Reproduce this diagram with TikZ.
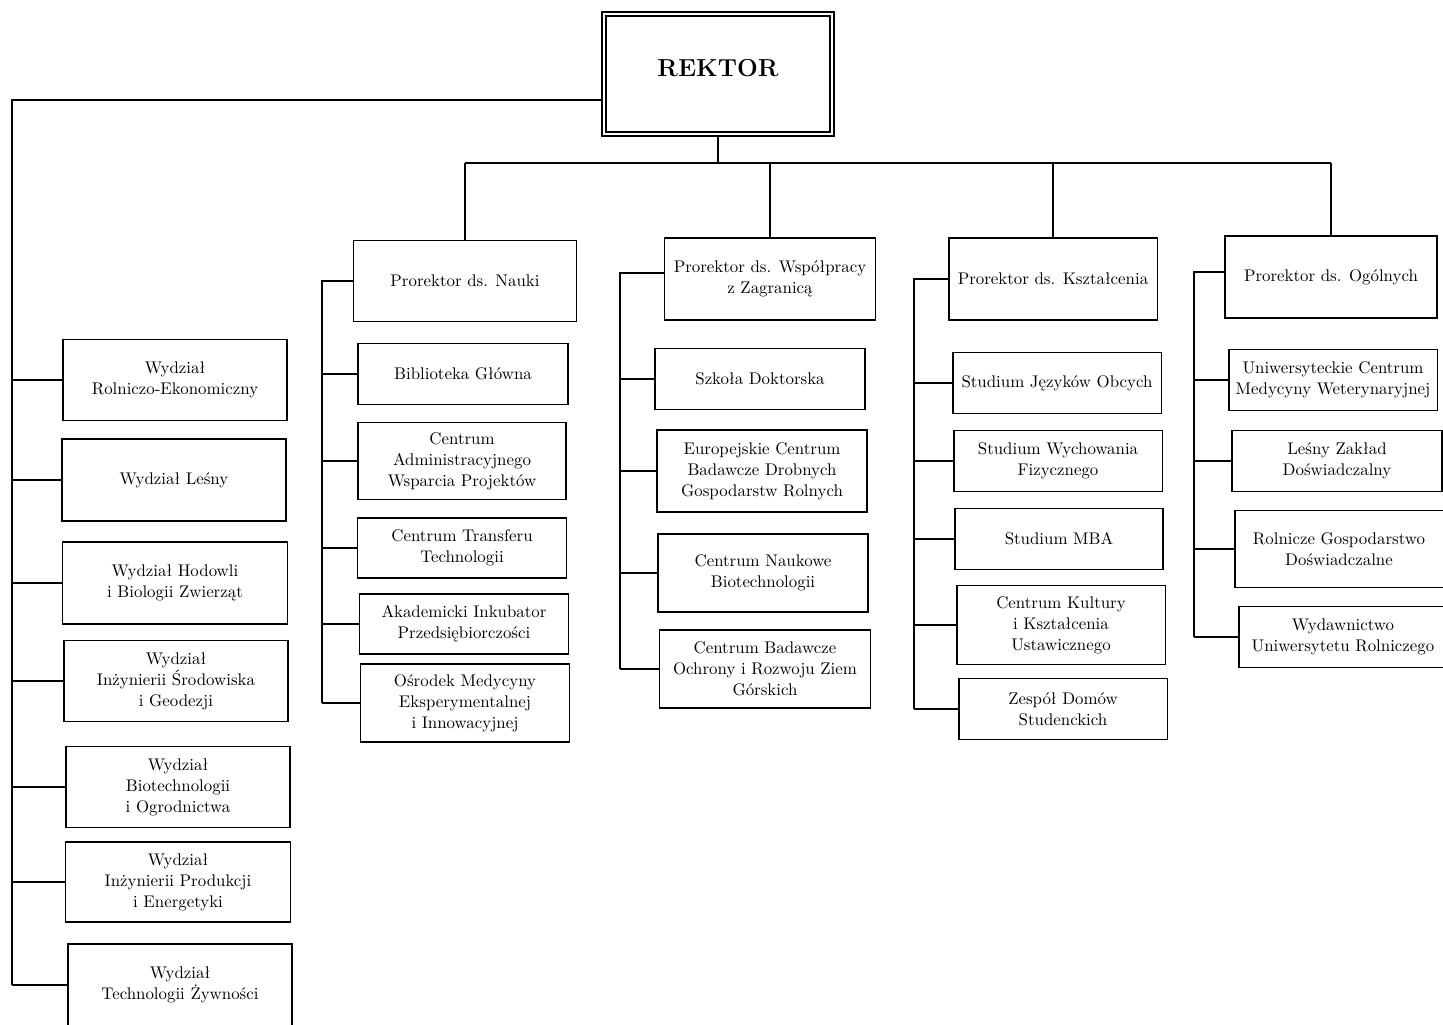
\documentclass[tikz,border=0pt]{standalone}
\usepackage{fontspec}
\usetikzlibrary{calc}

\begin{document}
\begin{tikzpicture}[x=0.02cm,y=-0.02cm,
    pole/.style={draw, line width=1.1pt, align=center, inner sep=2pt,
      font=\fontsize{9.6}{12}\selectfont},
    linia/.style={line width=1.1pt}]

  \useasboundingbox (0,0) rectangle (1443,1024);

  % Rektor
  \node[pole, double, line width=0.8pt, double distance=1.6pt,
    minimum width=4.56cm, minimum height=2.4cm, text depth=0.24cm,
    font=\fontsize{14}{16}\selectfont\bfseries] (rektor) at (718,74) {REKTOR};

  % Prorektorzy
  \node[pole, minimum width=4.46cm, minimum height=1.62cm] (pnauki) at (465,281) {Prorektor ds. Nauki};
  \node[pole, minimum width=4.22cm, minimum height=1.64cm] (pwsp) at (770,279) {Prorektor ds. Współpracy\\z Zagranicą};
  \node[pole, minimum width=4.18cm, minimum height=1.64cm] (pksz) at (1053,279) {Prorektor ds. Kształcenia};
  \node[pole, minimum width=4.24cm, minimum height=1.64cm] (pogo) at (1331,277) {Prorektor ds. Ogólnych};

  % Wydzialy
  \node[pole, minimum width=4.48cm, minimum height=1.62cm] (wyd1) at (175,380) {Wydział\\Rolniczo-Ekonomiczny};
  \node[pole, minimum width=4.48cm, minimum height=1.64cm] (wyd2) at (174,480) {Wydział Leśny};
  \node[pole, minimum width=4.5cm, minimum height=1.64cm] (wyd3) at (175,583) {Wydział Hodowli\\i Biologii Zwierząt};
  \node[pole, minimum width=4.48cm, minimum height=1.62cm] (wyd4) at (176,681) {Wydział\\Inżynierii Środowiska\\i Geodezji};
  \node[pole, minimum width=4.48cm, minimum height=1.62cm] (wyd5) at (178,787) {Wydział\\Biotechnologii\\i Ogrodnictwa};
  \node[pole, minimum width=4.5cm, minimum height=1.6cm] (wyd6) at (178,882) {Wydział\\Inżynierii Produkcji\\i Energetyki};
  \node[pole, minimum width=4.48cm, minimum height=1.64cm] (wyd7) at (180,985) {Wydział\\Technologii Żywności};

  % Jednostki - Nauka
  \node[pole, minimum width=4.2cm, minimum height=1.22cm] (nau1) at (463,374) {Biblioteka Główna};
  \node[pole, minimum width=4.16cm, minimum height=1.54cm] (nau2) at (462,461) {Centrum\\Administracyjnego\\Wsparcia Projektów};
  \node[pole, minimum width=4.18cm, minimum height=1.2cm] (nau3) at (462,548) {Centrum Transferu\\Technologii};
  \node[pole, minimum width=4.18cm, minimum height=1.2cm] (nau4) at (464,624) {Akademicki Inkubator\\Przedsiębiorczości};
  \node[pole, minimum width=4.18cm, minimum height=1.56cm] (nau5) at (465,703) {Ośrodek Medycyny\\Eksperymentalnej\\i Innowacyjnej};

  % Jednostki - Wspolpraca z Zagranica
  \node[pole, minimum width=4.2cm, minimum height=1.22cm] (wsp1) at (760,379) {Szkoła Doktorska};
  \node[pole, minimum width=4.2cm, minimum height=1.64cm] (wsp2) at (762,471) {Europejskie Centrum\\Badawcze Drobnych\\Gospodarstw Rolnych};
  \node[pole, minimum width=4.2cm, minimum height=1.56cm] (wsp3) at (763,573) {Centrum Naukowe\\Biotechnologii};
  \node[pole, minimum width=4.22cm, minimum height=1.56cm] (wsp4) at (765,669) {Centrum Badawcze\\Ochrony i Rozwoju Ziem\\Górskich};

  % Jednostki - Ksztalcenie
  \node[pole, minimum width=4.18cm, minimum height=1.22cm] (ksz1) at (1057,383) {Studium Języków Obcych};
  \node[pole, minimum width=4.18cm, minimum height=1.22cm] (ksz2) at (1058,461) {Studium Wychowania\\Fizycznego};
  \node[pole, minimum width=4.16cm, minimum height=1.22cm] (ksz3) at (1059,539) {Studium MBA};
  \node[pole, minimum width=4.18cm, minimum height=1.58cm] (ksz4) at (1061,625) {Centrum Kultury\\i Kształcenia\\Ustawicznego};
  \node[pole, minimum width=4.18cm, minimum height=1.22cm] (ksz5) at (1063,709) {Zespół Domów\\Studenckich};

  % Jednostki - Sprawy Ogolne
  \node[pole, minimum width=4.18cm, minimum height=1.22cm] (ogo1) at (1333,380) {Uniwersyteckie Centrum\\Medycyny Weterynaryjnej};
  \node[pole, minimum width=4.2cm, minimum height=1.22cm] (ogo2) at (1337,461) {Leśny Zakład\\Doświadczalny};
  \node[pole, minimum width=4.18cm, minimum height=1.54cm] (ogo3) at (1339,549) {Rolnicze Gospodarstwo\\Doświadczalne};
  \node[pole, minimum width=4.16cm, minimum height=1.22cm] (ogo4) at (1343,637) {Wydawnictwo\\Uniwersytetu Rolniczego};

  % Polaczenia rektora
  \coordinate (pien) at (12,100);
  \coordinate (szyna) at (718,163);
  \draw[linia] (pien -| rektor.west) -- (pien) -- (pien |- wyd7.west);
  \foreach \i in {1,...,7}
    \draw[linia] (pien |- wyd\i.west) -- (wyd\i.west);
  \draw[linia] (rektor.south) -- (szyna);
  \draw[linia] (szyna -| pnauki.north) -- (szyna -| pogo.north);
  \foreach \p in {pnauki,pwsp,pksz,pogo}
    \draw[linia] (szyna -| \p.north) -- (\p.north);

  % Polaczenia prorektorow
  \draw[linia] (pnauki.west) -- ++(-31,0) coordinate (snau) -- (snau |- nau5.west);
  \foreach \i in {1,...,5}
    \draw[linia] (snau |- nau\i.west) -- (nau\i.west);

  \draw[linia] ($(pwsp.west)+(0,-6)$) -- ++(-44,0) coordinate (swsp) -- (swsp |- wsp4.west);
  \foreach \i in {1,...,4}
    \draw[linia] (swsp |- wsp\i.west) -- (wsp\i.west);

  \draw[linia] (pksz.west) -- ++(-34,0) coordinate (sksz) -- (sksz |- ksz5.west);
  \foreach \i in {1,...,5}
    \draw[linia] (sksz |- ksz\i.west) -- (ksz\i.west);

  \draw[linia] ($(pogo.west)+(0,-5)$) -- ++(-30,0) coordinate (sogo) -- (sogo |- ogo4.west);
  \foreach \i in {1,...,4}
    \draw[linia] (sogo |- ogo\i.west) -- (ogo\i.west);

\end{tikzpicture}
\end{document}
